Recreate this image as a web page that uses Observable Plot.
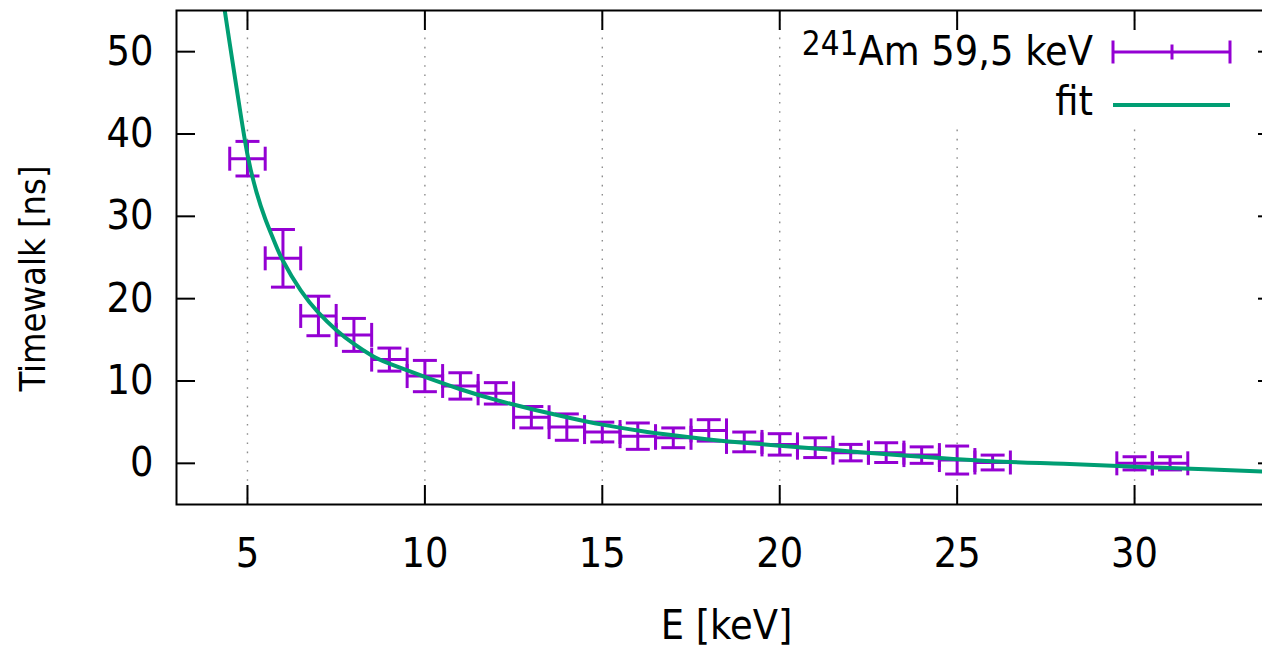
<!DOCTYPE html>
<html>
<head>
<meta charset="utf-8">
<script src="https://cdn.jsdelivr.net/npm/d3@7"></script>
<script src="https://cdn.jsdelivr.net/npm/@observablehq/plot@0.6"></script>
<style>
  html, body { margin: 0; padding: 0; background: #fff; overflow: hidden; }
  #wrap { position: relative; width: 1262px; height: 648px; overflow: hidden; }
  #wrap > svg.plotsvg { max-width: none !important; }
  #legend { position: absolute; left: 790px; top: 0px; overflow: visible; }
  .f { font-family: 'DejaVu Sans Condensed', 'Liberation Sans', sans-serif; font-stretch: condensed; }
</style>
</head>
<body>
<div id="wrap"></div>
<script>
// Measured points: energy [keV], timewalk [ns] and their errors
const energy      = [5, 6, 7, 8, 9, 10, 11, 12, 13, 14, 15, 16, 17, 18, 19, 20, 21, 22, 23, 24, 25, 26, 30, 31];
const timewalk    = [37.0, 24.9, 17.9, 15.6, 12.6, 10.6, 9.4, 8.5, 5.6, 4.4, 3.8, 3.3, 3.1, 4.0, 2.6, 2.3, 1.9, 1.3, 1.3, 1.0, 0.4, 0.1, 0.0, 0.0];
const timewalkErr = [2.1, 3.5, 2.4, 2.0, 1.4, 1.9, 1.6, 1.3, 1.3, 1.6, 1.2, 1.6, 1.2, 1.3, 1.2, 1.3, 1.2, 1.0, 1.2, 1.0, 1.7, 0.9, 0.8, 0.8];
const energyErr   = [0.5, 0.5, 0.5, 0.5, 0.5, 0.5, 0.5, 0.5, 0.5, 0.5, 0.5, 0.5, 0.5, 0.5, 0.5, 0.5, 0.5, 0.5, 0.5, 0.5, 0.5, 0.5, 0.5, 0.5];

// Fit curve
const fitEnergy   = [4.2, 4.35, 4.5, 4.75, 5, 5.25, 5.5, 5.75, 6, 6.5, 7, 7.5, 8, 8.5, 9, 10, 11, 12, 13, 14, 15, 16, 17, 18, 19, 20, 22, 24, 26, 28, 30, 32, 34];
const fitTimewalk = [60, 55.3, 51, 44, 37.5, 33.0, 29.7, 27.0, 24.6, 21.0, 18.3, 16.2, 14.5, 13.1, 12.1, 10.5, 9.0, 7.7, 6.6, 5.6, 4.7, 4.0, 3.4, 2.9, 2.5, 2.15, 1.45, 0.8, 0.25, -0.05, -0.4, -0.72, -1.05];

const xTicks = [5, 10, 15, 20, 25, 30];
const yTicks = [0, 10, 20, 30, 40, 50];
const xDomain = [3, 34];
const yDomain = [-5, 55];

const seriesLabel = "Am 59,5 keV";
const seriesSup = "241";
const fitLabel = "fit";
const xLabel = "E [keV]";
const yLabel = "Timewalk [ns]";

const purple = "#9400d3";
const green = "#009e73";
const FONT = "'DejaVu Sans Condensed', 'Liberation Sans', sans-serif";

const points = energy.map((e, i) => ({E: e, T: timewalk[i], dT: timewalkErr[i], dE: energyErr[i]}));
const fit = fitEnergy.map((e, i) => ({E: e, T: fitTimewalk[i]}));

const hline = {draw(ctx, size) { const r = Math.sqrt(size / Math.PI); ctx.moveTo(-r, 0); ctx.lineTo(r, 0); }};
const vline = {draw(ctx, size) { const r = Math.sqrt(size / Math.PI); ctx.moveTo(0, -r); ctx.lineTo(0, r); }};

const barStyle = {stroke: purple, strokeWidth: 3};
const capStyle = {stroke: purple, strokeWidth: 3, fill: "none", r: 12};

const chart = Plot.plot({
  width: 1276,
  height: 648,
  marginLeft: 176,
  marginRight: 0,
  marginTop: 10,
  marginBottom: 144,
  style: {fontFamily: FONT, fontSize: "41px", color: "black", background: "white", fontStretch: "condensed", maxWidth: "none"},
  x: {domain: xDomain, label: null},
  y: {domain: yDomain, label: null},
  marks: [
    Plot.ruleX(xTicks, {stroke: "#8c8c8c", strokeWidth: 1.4, strokeDasharray: "1.6,7.6"}),
    Plot.link(points, {x1: d => d.E - d.dE, x2: d => d.E + d.dE, y1: "T", y2: "T", ...barStyle}),
    Plot.link(points, {x1: "E", x2: "E", y1: d => d.T - d.dT, y2: d => d.T + d.dT, ...barStyle}),
    Plot.dot(points, {x: d => d.E - d.dE, y: "T", symbol: vline, ...capStyle}),
    Plot.dot(points, {x: d => d.E + d.dE, y: "T", symbol: vline, ...capStyle}),
    Plot.dot(points, {x: "E", y: d => d.T - d.dT, symbol: hline, ...capStyle}),
    Plot.dot(points, {x: "E", y: d => d.T + d.dT, symbol: hline, ...capStyle}),
    Plot.line(fit, {x: "E", y: "T", curve: "natural", stroke: green, strokeWidth: 4, clip: true}),
    Plot.frame({stroke: "black", strokeWidth: 2}),
    Plot.axisX({anchor: "bottom", ticks: xTicks, tickSize: -19, tickPadding: 52, strokeWidth: 2, fontSize: 41, label: null}),
    Plot.axisX({anchor: "top", ticks: xTicks, tickSize: -19, strokeWidth: 2, tickFormat: () => "", label: null}),
    Plot.axisY({anchor: "left", ticks: yTicks, tickSize: -19, tickPadding: 42, strokeWidth: 2, fontSize: 41, label: null}),
    Plot.axisY({anchor: "right", ticks: yTicks, tickSize: -19, strokeWidth: 2, tickFormat: () => "", label: null}),
    Plot.text([xLabel], {frameAnchor: "bottom", dy: 121, lineAnchor: "middle", textAnchor: "middle", fontSize: 41, fill: "black"}),
    Plot.text([yLabel], {frameAnchor: "left", dx: -143, dy: 21, rotate: -90, lineAnchor: "middle", textAnchor: "middle", fontSize: 36, fill: "black"})
  ]
});
chart.classList.add("plotsvg");
chart.style.maxWidth = "none";

const wrap = document.getElementById("wrap");
wrap.appendChild(chart);

// Legend (opaque key box like gnuplot)
const ns = "http://www.w3.org/2000/svg";
const lg = document.createElementNS(ns, "svg");
lg.setAttribute("id", "legend");
lg.setAttribute("width", 450);
lg.setAttribute("height", 140);
lg.innerHTML = `
  <rect y="30" width="450" height="98" fill="white"/>
  <text class="f" x="303" y="65" text-anchor="end" font-size="41" fill="black"><tspan font-size="33" dy="-10">${seriesSup}</tspan><tspan dy="10">${seriesLabel}</tspan></text>
  <g stroke="${purple}" stroke-width="3">
    <line x1="323" x2="440" y1="52" y2="52"/>
    <line x1="323" x2="323" y1="40.5" y2="63.5"/>
    <line x1="440" x2="440" y1="40.5" y2="63.5"/>
    <line x1="382" x2="382" y1="44.5" y2="59.5"/>
  </g>
  <text class="f" x="303" y="115" text-anchor="end" font-size="41" fill="black">${fitLabel}</text>
  <line x1="323" x2="440" y1="105" y2="105" stroke="${green}" stroke-width="4"/>
`;
wrap.appendChild(lg);
</script>
</body>
</html>
